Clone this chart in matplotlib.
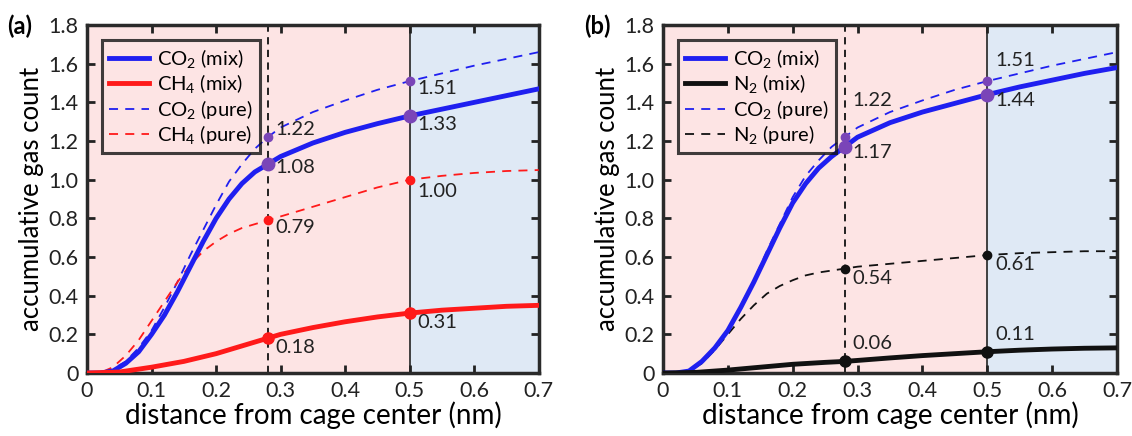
import numpy as np
import matplotlib
matplotlib.use("Agg")
from matplotlib import pyplot as plt

plt.rcParams['font.family'] = ['Lato', 'DejaVu Sans']
plt.rcParams['mathtext.fontset'] = 'custom'
plt.rcParams['mathtext.rm'] = 'Lato'
plt.rcParams['mathtext.it'] = 'Lato:italic'

# ---- data ----
x_fine = [0, 0.02, 0.04, 0.06, 0.08, 0.10, 0.12, 0.14, 0.16, 0.18, 0.20, 0.22,
          0.24, 0.26, 0.28, 0.30, 0.35, 0.40, 0.45, 0.50, 0.55, 0.60, 0.65, 0.70]
x_coarse = [0, 0.05, 0.10, 0.15, 0.20, 0.25, 0.28, 0.30, 0.35, 0.40, 0.45,
            0.50, 0.55, 0.60, 0.65, 0.70]

# panel (a): CO2 / CH4
a_co2_mix = [0, 0.0, 0.01, 0.05, 0.11, 0.20, 0.30, 0.42, 0.55, 0.68, 0.80, 0.90,
             0.98, 1.04, 1.08, 1.12, 1.19, 1.245, 1.29, 1.33, 1.365, 1.40, 1.435, 1.47]
a_co2_pure = [0, 0.0, 0.02, 0.06, 0.13, 0.22, 0.34, 0.47, 0.61, 0.74, 0.87, 0.99,
              1.08, 1.16, 1.22, 1.27, 1.35, 1.41, 1.465, 1.51, 1.55, 1.59, 1.625, 1.66]
a_ch4_pure = [0, 0.0, 0.03, 0.09, 0.17, 0.27, 0.37, 0.47, 0.56, 0.63, 0.68, 0.72,
              0.75, 0.77, 0.79, 0.81, 0.86, 0.91, 0.96, 1.00, 1.02, 1.035, 1.045, 1.05]
a_ch4_mix = [0, 0.005, 0.03, 0.06, 0.10, 0.15, 0.18, 0.20, 0.235, 0.265, 0.29,
             0.31, 0.325, 0.335, 0.345, 0.35]

# panel (b): CO2 / N2
b_co2_mix = [0, 0.0, 0.01, 0.06, 0.13, 0.22, 0.34, 0.47, 0.61, 0.75, 0.88, 0.98,
             1.06, 1.12, 1.17, 1.22, 1.295, 1.35, 1.395, 1.44, 1.48, 1.515, 1.55, 1.58]
b_co2_pure = [0, 0.0, 0.01, 0.06, 0.13, 0.22, 0.35, 0.48, 0.63, 0.77, 0.91, 1.02,
              1.10, 1.17, 1.22, 1.27, 1.35, 1.41, 1.465, 1.51, 1.55, 1.59, 1.625, 1.66]
b_n2_pure = [0, 0.0, 0.01, 0.05, 0.12, 0.20, 0.28, 0.35, 0.41, 0.45, 0.48, 0.505,
             0.52, 0.53, 0.54, 0.55, 0.565, 0.58, 0.595, 0.61, 0.62, 0.625, 0.63, 0.63]
b_n2_mix = [0, 0.003, 0.015, 0.03, 0.045, 0.055, 0.06, 0.065, 0.078, 0.09, 0.10,
            0.11, 0.118, 0.124, 0.128, 0.13]

x_marks = [0.28, 0.5]
a_marks = {"co2_mix": [1.08, 1.33], "co2_pure": [1.22, 1.51],
           "ch4_mix": [0.18, 0.31], "ch4_pure": [0.79, 1.00]}
b_marks = {"co2_mix": [1.17, 1.44], "co2_pure": [1.22, 1.51],
           "n2_mix": [0.06, 0.11], "n2_pure": [0.54, 0.61]}

BLUE = "#1f1ff0"
RED = "#ff1a1a"
BLACK = "#111111"
PURPLE = "#7a45b8"
PINK = "#fde4e4"
LIGHTBLUE = "#dfe9f5"

fig = plt.figure(figsize=(11.32, 4.36), dpi=100)
ax_a = fig.add_axes([0.0769, 0.1445, 0.399, 0.798])
ax_b = fig.add_axes([0.5857, 0.1445, 0.401, 0.798])


def style_axes(ax):
    ax.axvspan(0, 0.5, color=PINK, zorder=0, lw=0)
    ax.axvspan(0.5, 0.7, color=LIGHTBLUE, zorder=0, lw=0)
    ax.axvline(0.28, color=BLACK, ls=(0, (4, 3)), lw=1.3, zorder=1)
    ax.axvline(0.5, color="#333333", lw=1.3, zorder=1)
    ax.set_xlim(0, 0.7)
    ax.set_ylim(0, 1.8)
    ax.set_xticks(np.arange(0, 0.71, 0.1))
    ax.set_xticklabels(["0"] + [f"{v:.1f}" for v in np.arange(0.1, 0.71, 0.1)])
    ax.set_yticks(np.arange(0, 1.81, 0.2))
    ax.set_yticklabels(["0"] + [f"{v:.1f}" for v in np.arange(0.2, 1.81, 0.2)])
    ax.tick_params(direction="in", length=6, width=2, top=True, right=True,
                   labelsize=15.5, colors="#222222", pad=6)
    for s in ax.spines.values():
        s.set_linewidth(2.5)
        s.set_color("#2a2a2a")
    ax.set_xlabel("distance from cage center (nm)", fontsize=20, labelpad=0)
    ax.set_ylabel("accumulative gas count", fontsize=18.5, labelpad=3)


def label(ax, x, y, txt):
    ax.text(x, y, txt, fontsize=14.5, va="center", ha="left", color="#222222", zorder=6)


# ---------- panel (a) ----------
style_axes(ax_a)
ax_a.plot(x_fine, a_co2_mix, color=BLUE, lw=3.5, label="CO$_2$ (mix)", zorder=4)
ax_a.plot(x_coarse, a_ch4_mix, color=RED, lw=3.5, label="CH$_4$ (mix)", zorder=4)
ax_a.plot(x_fine, a_co2_pure, color=BLUE, lw=1.3, ls=(0, (5, 4)), label="CO$_2$ (pure)", zorder=3)
ax_a.plot(x_fine, a_ch4_pure, color=RED, lw=1.3, ls=(0, (5, 4)), label="CH$_4$ (pure)", zorder=3)
ax_a.plot(x_marks, a_marks["co2_mix"], "o", color=PURPLE, ms=9, zorder=5)
ax_a.plot(x_marks, a_marks["co2_pure"], "o", color=PURPLE, ms=6, zorder=5)
ax_a.plot(x_marks, a_marks["ch4_mix"], "o", color=RED, ms=8, zorder=5)
ax_a.plot(x_marks, a_marks["ch4_pure"], "o", color=RED, ms=6, zorder=5)

dx = 0.012
label(ax_a, 0.28 + dx, a_marks["co2_pure"][0] + 0.04, "1.22")
label(ax_a, 0.28 + dx, a_marks["co2_mix"][0] - 0.015, "1.08")
label(ax_a, 0.28 + dx, a_marks["ch4_pure"][0] - 0.035, "0.79")
label(ax_a, 0.28 + dx, a_marks["ch4_mix"][0] - 0.05, "0.18")
label(ax_a, 0.5 + dx, a_marks["co2_pure"][1] - 0.04, "1.51")
label(ax_a, 0.5 + dx, a_marks["co2_mix"][1] - 0.045, "1.33")
label(ax_a, 0.5 + dx, a_marks["ch4_pure"][1] - 0.06, "1.00")
label(ax_a, 0.5 + dx, a_marks["ch4_mix"][1] - 0.05, "0.31")

# ---------- panel (b) ----------
style_axes(ax_b)
ax_b.plot(x_fine, b_co2_mix, color=BLUE, lw=3.5, label="CO$_2$ (mix)", zorder=4)
ax_b.plot(x_coarse, b_n2_mix, color=BLACK, lw=3.5, label="N$_2$ (mix)", zorder=4)
ax_b.plot(x_fine, b_co2_pure, color=BLUE, lw=1.3, ls=(0, (5, 4)), label="CO$_2$ (pure)", zorder=3)
ax_b.plot(x_fine, b_n2_pure, color=BLACK, lw=1.3, ls=(0, (5, 4)), label="N$_2$ (pure)", zorder=3)
ax_b.plot(x_marks, b_marks["co2_mix"], "o", color=PURPLE, ms=9, zorder=5)
ax_b.plot(x_marks, b_marks["co2_pure"], "o", color=PURPLE, ms=6, zorder=5)
ax_b.plot(x_marks, b_marks["n2_mix"], "o", color=BLACK, ms=8, zorder=5)
ax_b.plot(x_marks, b_marks["n2_pure"], "o", color=BLACK, ms=6, zorder=5)

label(ax_b, 0.28 + dx, b_marks["co2_pure"][0] + 0.19, "1.22")
label(ax_b, 0.28 + dx, b_marks["co2_mix"][0] - 0.03, "1.17")
label(ax_b, 0.28 + dx, b_marks["n2_pure"][0] - 0.05, "0.54")
label(ax_b, 0.28 + dx, b_marks["n2_mix"][0] + 0.095, "0.06")
label(ax_b, 0.5 + dx, b_marks["co2_pure"][1] + 0.105, "1.51")
label(ax_b, 0.5 + dx, b_marks["co2_mix"][1] - 0.03, "1.44")
label(ax_b, 0.5 + dx, b_marks["n2_pure"][1] - 0.05, "0.61")
label(ax_b, 0.5 + dx, b_marks["n2_mix"][1] + 0.09, "0.11")

for ax in (ax_a, ax_b):
    leg = ax.legend(loc="upper left", bbox_to_anchor=(0.033, 0.957), fontsize=14.5,
                    frameon=True, fancybox=False, handlelength=2.0, handletextpad=0.4,
                    borderpad=0.35, labelspacing=0.12, borderaxespad=0)
    leg.get_frame().set_facecolor("none")
    leg.get_frame().set_edgecolor("#111111")
    leg.get_frame().set_linewidth(2.2)
    leg.set_zorder(7)

fig.text(0.006, 0.94, "(a)", fontsize=17, fontweight="bold", va="center")
fig.text(0.516, 0.94, "(b)", fontsize=17, fontweight="bold", va="center")

fig.savefig("out.png", dpi=100)
